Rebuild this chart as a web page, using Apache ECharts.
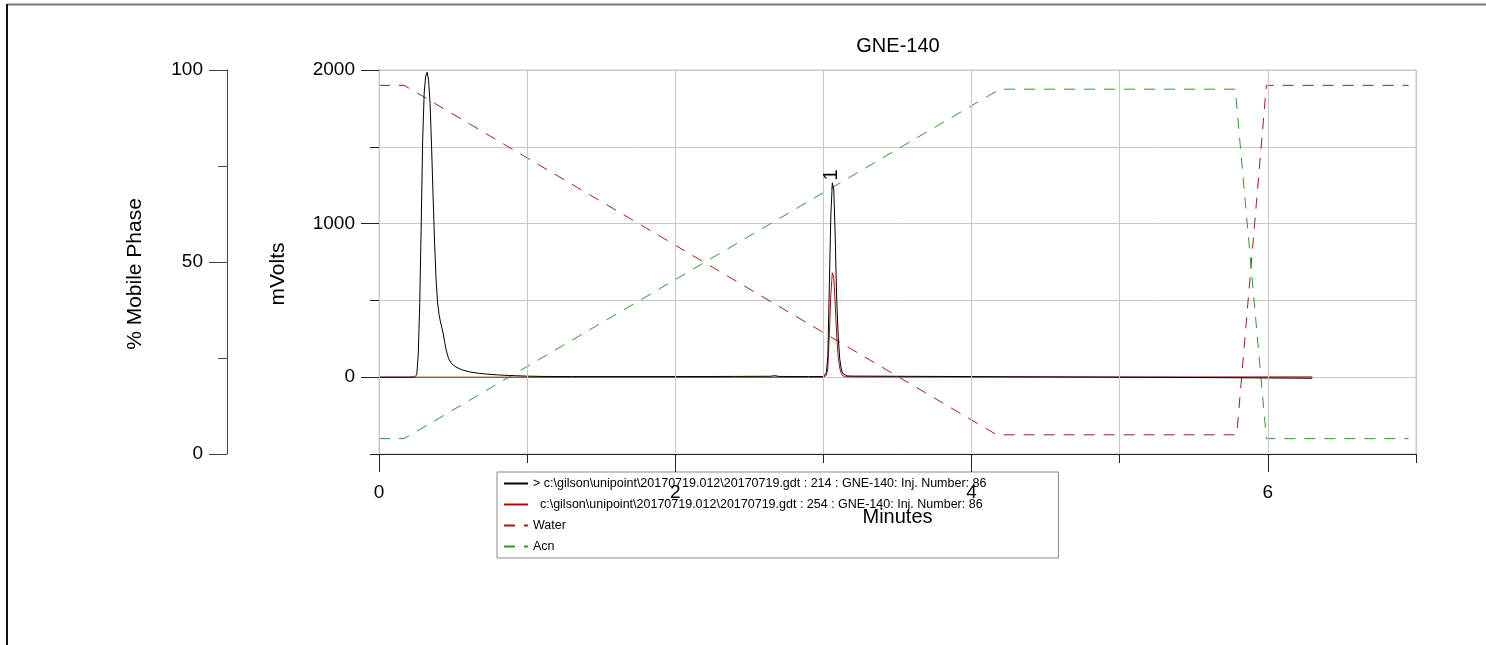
<!DOCTYPE html>
<html>
<head>
<meta charset="utf-8">
<script src="https://cdn.jsdelivr.net/npm/echarts@6/dist/echarts.min.js"></script>
<style>
html,body{margin:0;padding:0;background:#fff;}
#chart{width:1486px;height:645px;}
</style>
</head>
<body>
<div id="chart"></div>
<script>
// ---- data ----
const chartTitle = 'GNE-140';
const name214 = '> c:\\gilson\\unipoint\\20170719.012\\20170719.gdt : 214 : GNE-140: Inj. Number: 86';
const name254 = '  c:\\gilson\\unipoint\\20170719.012\\20170719.gdt : 254 : GNE-140: Inj. Number: 86';
const nameWater = 'Water';
const nameAcn = 'Acn';

const t214 = [0, 0.1, 0.2, 0.24, 0.255, 0.265, 0.275, 0.285, 0.295, 0.305, 0.315, 0.325, 0.335, 0.345, 0.355, 0.365, 0.375, 0.385, 0.395, 0.405, 0.415, 0.425, 0.435, 0.445, 0.455, 0.47, 0.49, 0.52, 0.56, 0.61, 0.67, 0.73, 0.8, 0.88, 0.99, 1.1, 1.3, 1.6, 2.0, 2.4, 2.64, 2.67, 2.7, 2.9, 3.0, 3.01, 3.02, 3.03, 3.04, 3.05, 3.06, 3.063, 3.07, 3.08, 3.086, 3.09, 3.1, 3.11, 3.12, 3.13, 3.14, 3.16, 3.2, 3.5, 4.0, 4.5, 5.0, 5.5, 6.0, 6.3];
const v214 = [0, 0, 0, 2, 15, 150, 480, 1000, 1550, 1850, 1960, 1985, 1930, 1780, 1500, 1180, 880, 640, 490, 410, 360, 320, 275, 220, 170, 120, 88, 66, 48, 35, 26, 20, 15, 11, 7, 5, 4, 4, 4, 5, 6, 10, 5, 4, 4, 5, 30, 140, 600, 1050, 1265, 1272, 1220, 900, 640, 500, 260, 120, 55, 25, 12, 8, 7, 6, 4, 2, 0, -2, -5, -7];

const t254 = [0, 1.0, 2.0, 2.9, 3.0, 3.01, 3.02, 3.03, 3.04, 3.05, 3.06, 3.063, 3.07, 3.08, 3.09, 3.1, 3.11, 3.12, 3.13, 3.15, 3.2, 4.0, 5.0, 6.3];
const v254 = [0, 0, 0, 0, 0, 3, 12, 60, 280, 540, 680, 686, 650, 470, 260, 130, 60, 25, 10, 3, 2, 1, 1, 2];

const tWater = [0, 0.17, 4.17, 5.79, 5.99, 6.95];
const pWater = [96, 96, 5, 5, 96, 96];
const tAcn = [0, 0.17, 4.19, 5.78, 5.99, 6.95];
const pAcn = [4, 4, 95, 95, 4, 4];

const peakLabels = ['1'];
const xLabelValues = [0, 2, 4, 6];
const mvLabelValues = [0, 1000, 2000];
const pctLabelValues = [0, 50, 100];

// ---- build ----
const pairs = (t, v) => t.map((x, i) => [x, v[i]]);
const FONT = "'Liberation Sans', Arial, sans-serif";
const AX = '#222';
const GRIDC = '#c8c8c8';

// locate peak 1 in the 214 trace
let best = -Infinity, bi = 0;
t214.forEach((x, i) => { if (x > 2.9 && x < 3.3 && v214[i] > best) { best = v214[i]; bi = i; } });

const chart = echarts.init(document.getElementById('chart'), null, {renderer: 'canvas'});
const baseGraphic = [
  {type: 'line', shape: {x1: 7, y1: 4.5, x2: 1486, y2: 4.5}, style: {stroke: '#777', lineWidth: 2}, silent: true},
  {type: 'line', shape: {x1: 7, y1: 4, x2: 7, y2: 645}, style: {stroke: '#111', lineWidth: 2}, silent: true}
];
const option = {
  animation: false,
  backgroundColor: '#fff',
  textStyle: {fontFamily: FONT, color: '#000'},
  title: {
    text: chartTitle, left: 898, top: 36, textAlign: 'center', padding: 0,
    textStyle: {fontSize: 20, fontWeight: 'normal', color: '#000', fontFamily: FONT}
  },
  graphic: baseGraphic,
  grid: {left: 379, right: 70, top: 70, bottom: 191, show: true, borderColor: GRIDC, borderWidth: 1, containLabel: false},
  legend: {
    orient: 'vertical', left: 497, top: 472, z: -1,
    backgroundColor: '#fff', borderColor: '#8a8a8a', borderWidth: 1,
    padding: [5, 72, 5, 6], itemGap: 8, itemWidth: 24, itemHeight: 12.5,
    itemStyle: {opacity: 0, borderWidth: 0},
    textStyle: {fontSize: 12.5, color: '#000', fontFamily: FONT},
    selectedMode: false,
    data: [name214, name254, nameWater, nameAcn]
  },
  xAxis: [
    {
      type: 'value', min: 0, max: 7, interval: 1, position: 'bottom', z: 5,
      name: 'Minutes', nameLocation: 'middle', nameGap: 53,
      nameTextStyle: {fontSize: 20, color: '#000', fontFamily: FONT},
      axisLine: {show: true, onZero: false, lineStyle: {color: AX, width: 1}},
      axisTick: {show: true, length: 9, lineStyle: {color: AX}},
      axisLabel: {fontSize: 19, margin: 29, color: '#000', fontFamily: FONT,
        formatter: v => (xLabelValues.indexOf(v) >= 0 ? String(v) : '')},
      splitLine: {show: true, lineStyle: {color: GRIDC, width: 1}}
    },
    {
      type: 'value', min: 0, max: 7, position: 'bottom', z: 5,
      axisLine: {show: false, onZero: false},
      axisTick: {show: true, length: 18, customValues: xLabelValues, lineStyle: {color: AX}},
      axisLabel: {show: false, customValues: xLabelValues},
      splitLine: {show: false}
    }
  ],
  yAxis: [
    {
      type: 'value', min: -500, max: 2000, interval: 500, position: 'left',
      name: 'mVolts', nameLocation: 'middle', nameGap: 90,
      nameTextStyle: {fontSize: 21, color: '#000', fontFamily: FONT, padding: [0, 24, 0, 0]},
      axisLine: {show: true, onZero: false, lineStyle: {color: AX, width: 1}},
      axisTick: {show: true, length: 9, lineStyle: {color: AX}},
      axisLabel: {fontSize: 19, margin: 24, color: '#000', fontFamily: FONT,
        formatter: v => (mvLabelValues.indexOf(v) >= 0 ? String(v) : '')},
      splitLine: {show: true, lineStyle: {color: GRIDC, width: 1}}
    },
    {
      type: 'value', min: -500, max: 2000, position: 'left',
      axisLine: {show: false, onZero: false},
      axisTick: {show: true, length: 18, customValues: mvLabelValues, lineStyle: {color: AX}},
      axisLabel: {show: false, customValues: mvLabelValues},
      splitLine: {show: false}
    },
    {
      type: 'value', min: 0, max: 100, interval: 50, position: 'left', offset: 152,
      name: '% Mobile Phase', nameLocation: 'middle', nameGap: 81,
      nameTextStyle: {fontSize: 21, color: '#000', fontFamily: FONT, padding: [0, 24, 0, 0]},
      axisLine: {show: true, onZero: false, lineStyle: {color: '#444', width: 1}},
      axisTick: {show: true, length: 18, lineStyle: {color: '#444'}},
      minorTick: {show: true, splitNumber: 2, length: 9, lineStyle: {color: '#444'}},
      axisLabel: {fontSize: 19, margin: 24, color: '#000', fontFamily: FONT,
        formatter: v => (pctLabelValues.indexOf(v) >= 0 ? String(v) : '')},
      splitLine: {show: false},
      minorSplitLine: {show: false}
    }
  ],
  series: [
    {
      name: nameWater, type: 'line', xAxisIndex: 0, yAxisIndex: 2,
      data: pairs(tWater, pWater), symbol: 'none', showSymbol: false,
      lineStyle: {color: '#9e1f1f', width: 1, type: [11, 9]}, itemStyle: {color: '#9e1f1f'}, z: 2
    },
    {
      name: nameAcn, type: 'line', xAxisIndex: 0, yAxisIndex: 2,
      data: pairs(tAcn, pAcn), symbol: 'none', showSymbol: false,
      lineStyle: {color: '#2e9a2e', width: 1, type: [11, 9]}, itemStyle: {color: '#2e9a2e'}, z: 2
    },
    {
      name: name254, type: 'line', xAxisIndex: 0, yAxisIndex: 0,
      data: pairs(t254, v254), symbol: 'none', showSymbol: false,
      lineStyle: {color: '#a01010', width: 1}, itemStyle: {color: '#a01010'}, z: 3
    },
    {
      name: name214, type: 'line', xAxisIndex: 0, yAxisIndex: 0,
      data: pairs(t214, v214), symbol: 'none', showSymbol: false,
      lineStyle: {color: '#000', width: 1}, itemStyle: {color: '#000'}, z: 4
    }
  ]
};
chart.setOption(option);

// peak number label, placed through the chart's own scales
const pkPix = chart.convertToPixel({xAxisIndex: 0, yAxisIndex: 0}, [t214[bi], v214[bi]]);
chart.setOption({
  graphic: baseGraphic.concat([{
    type: 'text', x: pkPix[0] - 1, y: pkPix[1] - 7, rotation: Math.PI / 2, z: 10, silent: true,
    style: {text: peakLabels[0], fill: '#000', font: "20px 'Liberation Sans', Arial, sans-serif",
      align: 'center', verticalAlign: 'middle'}
  }])
});
</script>
</body>
</html>
